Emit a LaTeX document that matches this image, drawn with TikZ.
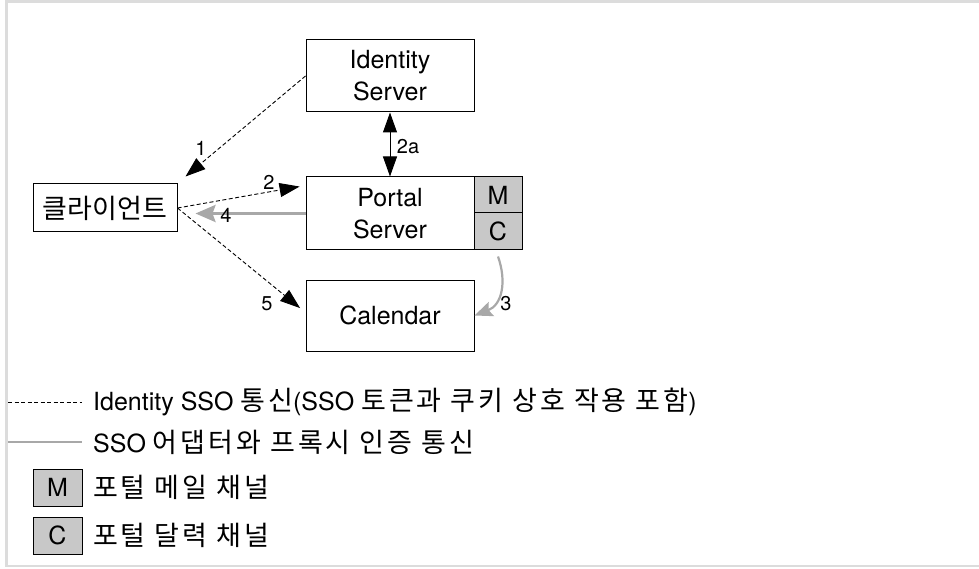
\documentclass[tikz,border=0pt]{standalone}
\usepackage{fontspec}
\setmainfont{TeX Gyre Heros}
\newfontfamily\kr[Scale=1.08]{Noto Sans CJK KR}
\newfontfamily\krl[Scale=1.08, LetterSpace=11]{Noto Sans CJK KR}
\usetikzlibrary{arrows.meta}
\definecolor{framegray}{HTML}{DCDCDC}
\definecolor{arrgray}{HTML}{A8A8A8}
\definecolor{chgray}{HTML}{C8C8C8}
\tikzset{
  boxnode/.style={draw, line width=1pt, inner sep=0pt, align=center, font=\fontsize{25}{32}\selectfont},
  chnode/.style={boxnode, fill=chgray},
  lbl/.style={inner sep=0pt, font=\fontsize{20}{22}\selectfont},
  legtext/.style={anchor=west, inner sep=0pt, font=\fontsize{25}{30}\selectfont},
  dashconn/.style={line width=0.9pt, dash pattern=on 4pt off 2.5pt, -{Triangle[length=20pt,width=14pt]}},
  grayconn/.style={line width=3pt, arrgray, -{Stealth[length=20pt,width=17pt,inset=3pt]}},
}
\begin{document}
\begin{tikzpicture}[x=1pt,y=-1pt]
\useasboundingbox (0,0) rectangle (979,569);
% frame
\draw[framegray, line width=2.5pt] (979,1.5) -- (6.5,1.5) -- (6.5,566) -- (979,566);

% nodes
\node[boxnode, minimum width=168pt, minimum height=72pt] (ids) at (390,76) {Identity\\Server};
\node[boxnode, minimum width=168pt, minimum height=73pt] (pm) at (390,213.5) {Portal\\Server};
\node[chnode, minimum width=48pt, minimum height=36pt] (M) at (498,195) {M};
\node[chnode, minimum width=48pt, minimum height=37pt] (C) at (498,231.5) {C};
\node[boxnode, minimum width=168pt, minimum height=71pt] (cal) at (390,315.5) {Calendar};
\node[boxnode, minimum width=144pt, minimum height=48pt] (cl) at (105,208) {\kr 클라이언트};

% connectors
\draw[dashconn] (ids.west) -- ([xshift=8pt,yshift=7pt]cl.north east);
\draw[dashconn, shorten >=6pt] (cl.east) -- ([yshift=28pt]pm.west);
\draw[dashconn, shorten >=7pt] (cl.east) -- ([yshift=3pt]cal.west);
\draw[grayconn, shorten >=18pt] (pm.west) -- (cl.east |- pm.west);
\draw[line width=1pt, {Triangle[length=20pt,width=14pt]}-{Triangle[length=20pt,width=14pt]}] (ids.south) -- (pm.north);
\draw[line width=2.2pt, arrgray, -{Stealth[length=18pt,width=15pt,inset=3pt]}] ([yshift=-6pt]C.south) .. controls (507,282) and (502,305) .. (cal.east);

% labels
\node[lbl] (n1) at (201,148) {1};
\node[lbl] (n2) at (269,182) {2};
\node[lbl] (n4) at (226,215) {4};
\node[lbl] (n5) at (267,304) {5};
\node[lbl] (n2a) at (408,147) {2a};
\node[lbl] (n3) at (506,304) {3};

% legend
\coordinate (la1) at (8,402);
\coordinate (lb1) at (82,402);
\draw[line width=0.9pt, dash pattern=on 4pt off 2.5pt] (la1) -- (lb1);
\node[legtext] (t1) at (93,402) {Identity SSO {\krl 통신}(SSO {\krl 토큰과 쿠키 상호 작용 포함})};
\coordinate (la2) at (8,442);
\coordinate (lb2) at (82,442);
\draw[line width=2.5pt, arrgray] (la2) -- (lb2);
\node[legtext] (t2) at (93,442) {SSO {\krl 어댑터와 프록시 인증 통신}};
\node[chnode, minimum width=49pt, minimum height=37pt] (lm) at (57.5,487.5) {M};
\node[legtext] (t3) at (93,487.5) {\krl 포털 메일 채널};
\node[chnode, minimum width=49pt, minimum height=37pt] (lc) at (57.5,535.5) {C};
\node[legtext] (t4) at (93,535.5) {\krl 포털 달력 채널};
\end{tikzpicture}
\end{document}
